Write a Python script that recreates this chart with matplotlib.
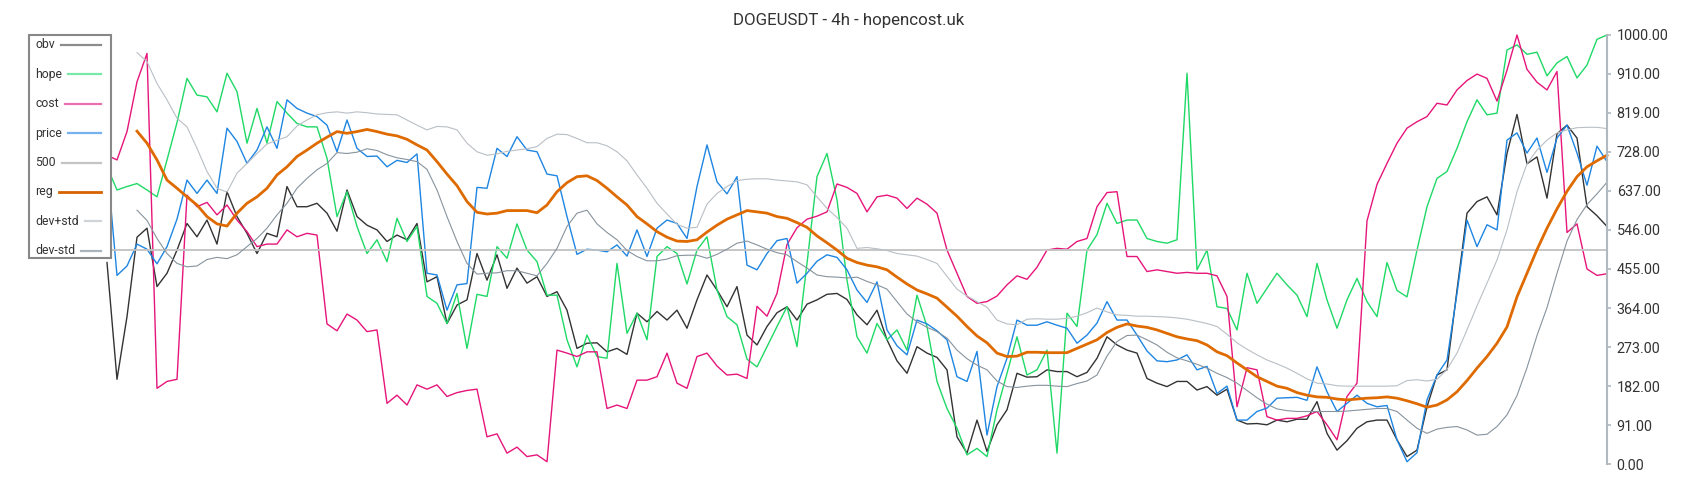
import numpy as np
import matplotlib
matplotlib.use('Agg')
import matplotlib.pyplot as plt
from matplotlib.lines import Line2D
from matplotlib.patches import Rectangle

plt.rcParams['font.family'] = ['Roboto', 'DejaVu Sans']
nan = np.nan

title = 'DOGEUSDT - 4h - hopencost.uk'
yticks = [0, 91, 182, 273, 364, 455, 546, 637, 728, 819, 910, 1000]

obv = [470, 198, 344, 529, 550, 414, 445, 499, 561, 530,
       569, 513, 635, 577, 538, 491, 538, 530, 647, 600,
       600, 608, 585, 543, 639, 577, 557, 546, 519, 534,
       523, 561, 425, 437, 328, 371, 383, 491, 429, 488,
       410, 457, 422, 437, 391, 402, 359, 270, 282, 283,
       262, 270, 256, 352, 332, 356, 336, 359, 317, 383,
       441, 406, 367, 414, 301, 278, 321, 353, 367, 336,
       373, 383, 396, 398, 384, 348, 325, 359, 290, 241,
       212, 274, 259, 249, 220, 64, 26, 103, 30, 92,
       127, 212, 203, 204, 220, 216, 216, 204, 214, 247,
       297, 278, 266, 259, 200, 189, 181, 193, 193, 173,
       181, 161, 175, 103, 94, 95, 92, 103, 99, 105,
       105, 146, 72, 33, 55, 84, 99, 103, 103, 57,
       18, 33, 134, 208, 220, 406, 585, 612, 623, 581,
       724, 815, 700, 716, 620, 770, 790, 760, 600, 579, 554]

hope = [693, 639, 647, 654, 639, 623, 709, 796, 899, 860,
        856, 821, 911, 868, 748, 829, 748, 845, 818, 794,
        786, 786, 713, 577, 635, 554, 491, 523, 472, 573,
        519, 554, 391, 375, 328, 398, 270, 396, 391, 507,
        480, 560, 499, 472, 394, 394, 290, 227, 301, 251,
        247, 468, 305, 352, 290, 484, 507, 491, 420, 499,
        530, 406, 344, 325, 245, 227, 274, 321, 367, 274,
        468, 670, 724, 616, 429, 297, 259, 328, 290, 313,
        266, 394, 321, 193, 130, 84, 22, 37, 18, 127,
        212, 297, 208, 220, 266, 26, 352, 321, 499, 535,
        608, 561, 569, 569, 526, 519, 515, 523, 911, 453,
        499, 367, 363, 313, 445, 375, 410, 445, 418, 394,
        344, 468, 383, 317, 383, 433, 379, 344, 470, 405,
        390, 499, 600, 666, 682, 736, 798, 849, 814, 818,
        965, 977, 955, 960, 905, 935, 950, 900, 930, 990, 1000]

cost = [720, 709, 775, 891, 957, 177, 193, 198, 627, 600,
        610, 581, 604, 569, 542, 507, 513, 513, 546, 530,
        538, 534, 327, 311, 350, 336, 309, 313, 142, 161,
        138, 185, 175, 185, 158, 167, 172, 175, 64, 71,
        26, 40, 18, 22, 6, 266, 259, 251, 262, 262,
        130, 138, 130, 196, 196, 204, 259, 189, 177, 251,
        259, 229, 208, 210, 200, 368, 345, 398, 512, 551,
        571, 578, 588, 653, 645, 631, 588, 623, 627, 620,
        596, 620, 606, 585, 499, 445, 391, 375, 379, 392,
        418, 439, 431, 459, 499, 503, 501, 519, 526, 600,
        633, 635, 484, 484, 449, 453, 449, 445, 447, 445,
        445, 439, 391, 134, 225, 220, 111, 103, 107, 107,
        113, 123, 92, 57, 158, 189, 567, 652, 701, 748,
        783, 798, 810, 841, 837, 872, 894, 909, 899, 846,
        918, 1000, 920, 890, 872, 915, 540, 560, 455, 440, 444]

price = [700, 440, 462, 513, 501, 467, 507, 571, 662, 631,
         662, 631, 783, 752, 701, 732, 786, 736, 849, 829,
         818, 810, 790, 728, 802, 736, 717, 718, 693, 708,
         703, 723, 445, 441, 359, 418, 421, 645, 643, 736,
         717, 763, 732, 728, 676, 672, 577, 489, 501, 499,
         495, 511, 485, 546, 484, 550, 569, 561, 526, 647,
         744, 658, 630, 670, 464, 453, 491, 521, 526, 422,
         445, 473, 488, 482, 453, 406, 377, 425, 313, 276,
         255, 336, 327, 311, 290, 204, 193, 263, 68, 181,
         247, 336, 324, 324, 332, 324, 317, 282, 301, 329,
         379, 336, 336, 301, 264, 241, 239, 243, 255, 220,
         228, 165, 182, 103, 103, 123, 131, 154, 155, 156,
         149, 227, 169, 123, 142, 161, 142, 134, 137, 57,
         6, 27, 150, 208, 243, 398, 569, 507, 558, 546,
         755, 772, 725, 760, 680, 760, 790, 725, 650, 741, 705]

level = [500] * 151

reg = [nan, nan, nan, 776, 748, 709, 662, 643, 623, 604,
       577, 560, 555, 585, 608, 623, 643, 674, 693, 717,
       732, 748, 762, 775, 771, 775, 780, 775, 769, 765,
       757, 744, 732, 705, 676, 649, 612, 587, 583, 585,
       591, 591, 591, 586, 604, 635, 656, 670, 672, 661,
       643, 623, 604, 577, 560, 542, 529, 520, 519, 523,
       541, 557, 571, 581, 591, 588, 585, 577, 573, 563,
       552, 532, 516, 499, 480, 470, 464, 460, 453, 436,
       420, 406, 397, 387, 366, 345, 321, 299, 283, 259,
       251, 252, 261, 261, 260, 260, 260, 270, 280, 290,
       307, 319, 327, 322, 319, 313, 305, 297, 292, 288,
       278, 262, 253, 236, 220, 204, 193, 182, 177, 167,
       161, 157, 156, 152, 150, 152, 154, 155, 157, 154,
       148, 141, 133, 138, 150, 169, 195, 224, 251, 282,
       320, 390, 445, 500, 550, 595, 636, 670, 693, 707, 720]

dev_up = [nan, nan, nan, 959, 938, 887, 849, 806, 786, 736,
          682, 643, 634, 678, 701, 724, 746, 755, 763, 788,
          802, 814, 819, 821, 818, 821, 819, 816, 815, 814,
          802, 790, 779, 787, 786, 779, 748, 728, 720, 723,
          729, 732, 735, 740, 759, 769, 768, 759, 749, 749,
          742, 728, 707, 674, 643, 608, 583, 559, 550, 552,
          606, 631, 647, 661, 664, 665, 665, 662, 660, 658,
          651, 623, 596, 575, 550, 503, 505, 502, 498, 491,
          488, 485, 477, 468, 438, 408, 392, 379, 366, 336,
          327, 325, 338, 339, 338, 338, 340, 345, 353, 364,
          355, 348, 347, 345, 345, 344, 343, 341, 338, 333,
          328, 321, 303, 283, 268, 255, 243, 234, 224, 212,
          199, 189, 187, 183, 182, 182, 182, 182, 182, 183,
          195, 197, 194, 198, 221, 259, 313, 369, 422, 476,
          546, 635, 700, 732, 755, 772, 779, 784, 785, 785, 782]

dev_dn = [nan, nan, nan, 592, 568, 526, 491, 468, 460, 462,
          477, 482, 479, 488, 507, 526, 550, 581, 608, 643,
          666, 686, 701, 726, 724, 727, 735, 731, 721, 714,
          710, 705, 687, 639, 577, 519, 468, 443, 445, 446,
          451, 451, 445, 439, 468, 503, 554, 585, 592, 560,
          540, 523, 498, 484, 474, 474, 478, 486, 487, 487,
          480, 489, 501, 515, 520, 511, 501, 493, 488, 472,
          457, 441, 437, 436, 434, 436, 426, 418, 408, 379,
          350, 332, 319, 309, 294, 266, 246, 231, 220, 194,
          181, 179, 182, 184, 184, 182, 181, 188, 194, 208,
          252, 286, 300, 301, 290, 278, 261, 248, 241, 233,
          224, 212, 202, 189, 172, 155, 140, 129, 125, 123,
          123, 123, 123, 123, 124, 126, 128, 130, 130, 123,
          103, 84, 72, 82, 86, 88, 80, 68, 70, 88,
          115, 160, 225, 300, 365, 445, 520, 570, 605, 630, 657]

names = ['obv', 'hope', 'cost', 'price', '500', 'reg', 'dev+std', 'dev-std']
series = [obv, hope, cost, price, level, reg, dev_up, dev_dn]
colors = ['#333333', '#1fd966', '#e6157a', '#1e86e2', '#c2c2c2', '#de6a00', '#b9bfc5', '#87939d']
widths = [1.0, 1.0, 1.0, 1.0, 1.3, 2.0, 0.8, 0.8]
legend_colors = ['#8c8c8c', '#78e8a8', '#ec6fae', '#76b3ee', '#c4c4c4', '#d66200', '#d0d4d8', '#aab3bb']

W, H = 1700, 500
fig = plt.figure(figsize=(17, 5), dpi=100)
ax = fig.add_axes([107 / W, 1 - 464.3 / H, 1500 / W, 429.3 / H])

x = np.arange(len(obv))
for vals, c, lw in zip(series, colors, widths):
    ax.plot(x, np.array(vals, dtype=float), color=c, linewidth=lw, clip_on=False)

ax.set_xlim(0, len(obv) - 1)
ax.set_ylim(0, 1000)
for s in ['top', 'left', 'bottom']:
    ax.spines[s].set_visible(False)
ax.spines['right'].set_color('#b0b8c0')
ax.spines['right'].set_linewidth(1.5)
ax.set_xticks([])
ax.yaxis.tick_right()
ax.set_yticks(yticks)
ax.set_yticklabels(['%.2f' % v for v in yticks])
ax.tick_params(axis='y', length=3, width=1.2, color='#b0b8c0', pad=4,
               labelsize=10.4, labelcolor='#333333')

fig.text(849 / W, 1 - 21 / H, title, ha='center', va='center', fontsize=12.2, color='#333333')

# hand-made legend: text left aligned, handle stretched to the right edge
box = Rectangle((29 / W, 1 - 258 / H), 82 / W, 223 / H, transform=fig.transFigure,
                facecolor='white', edgecolor='#888888', linewidth=1.5, zorder=10)
fig.add_artist(box)
texts = []
for k, name in enumerate(names):
    yy = 1 - (45 + k * 29.4) / H
    t = fig.text(35 / W, yy, name, ha='left', va='center', fontsize=8.8, color='#333333', zorder=11)
    texts.append((t, yy))
fig.canvas.draw()
for (t, yy), c, name in zip(texts, legend_colors, names):
    right = t.get_window_extent().x1
    lw = 2.0 if name == 'reg' else 1.6
    fig.add_artist(Line2D([(right + 6) / W, 101 / W], [yy, yy], transform=fig.transFigure,
                          color=c, linewidth=lw, zorder=11))

fig.savefig('out.png', dpi=100)
